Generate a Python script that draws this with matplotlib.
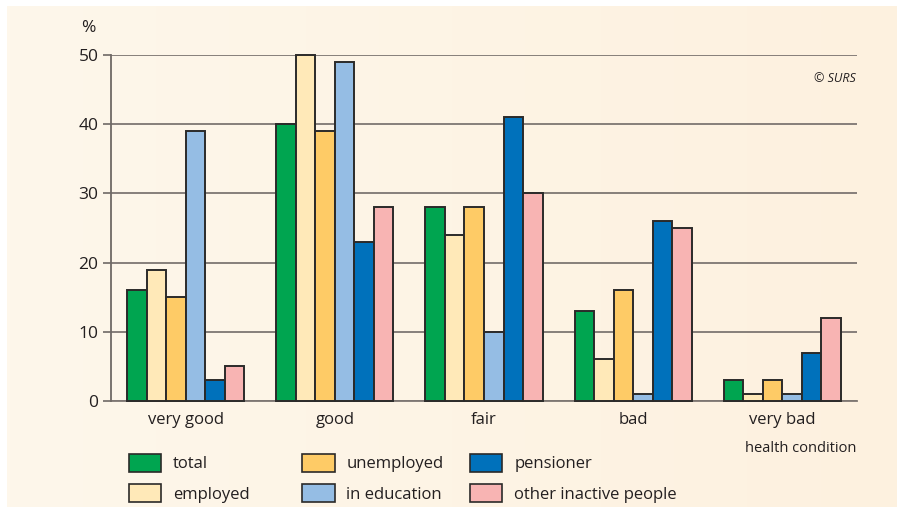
import numpy as np
import matplotlib.pyplot as plt
from matplotlib.patches import Patch

plt.rcParams['font.family'] = ['Open Sans', 'DejaVu Sans']

categories = ['very good', 'good', 'fair', 'bad', 'very bad']
groups = ['total', 'employed', 'unemployed', 'in education', 'pensioner',
          'other inactive people']
values = {
    'total':                 [16, 40, 28, 13, 3],
    'employed':              [19, 50, 24, 6, 1],
    'unemployed':            [15, 39, 28, 16, 3],
    'in education':          [39, 49, 10, 1, 1],
    'pensioner':             [3, 23, 41, 26, 7],
    'other inactive people': [5, 28, 30, 25, 12],
}
colors = ['#00a550', '#ffe9b8', '#fecb66', '#95bde4', '#0071bb', '#f8b4b3']

fig = plt.figure(figsize=(9.04, 5.13), dpi=100)
fig.patch.set_facecolor('white')

# beige panel, a little warmer towards the right
bg = fig.add_axes([7 / 904, 6 / 513, 890 / 904, 501 / 513], zorder=-10)
grad = np.linspace(0, 1, 256).reshape(1, -1)
c0 = np.array([254, 247, 235]) / 255
c1 = np.array([253, 241, 223]) / 255
img = c0 + (c1 - c0) * grad[..., None]
bg.imshow(img, aspect='auto', extent=[0, 1, 0, 1])
bg.set_axis_off()

ax = fig.add_axes([111 / 904, 112 / 513, 746 / 904, 346 / 513])
ax.set_facecolor('none')

x = np.arange(len(categories))
w = 0.131
for i, (g, c) in enumerate(zip(groups, colors)):
    ax.bar(x + (i - 2.5) * w, values[g], width=w, color=c,
           edgecolor='#2b2a29', linewidth=1.4, zorder=3, clip_on=False)

ax.set_xlim(-0.5, 4.5)
ax.set_ylim(0, 50)
ax.set_yticks([0, 10, 20, 30, 40, 50])
ax.set_xticks(x)
ax.set_xticklabels(categories, fontsize=12, color='#231f20')
ax.tick_params(axis='x', length=0, pad=8)
ax.tick_params(axis='y', length=6, width=1.2, color='#6f6965',
               labelsize=12.5, labelcolor='#231f20', pad=3)
ax.grid(axis='y', color='#7d7672', linewidth=1.3, zorder=1)
for s in ['top', 'right', 'bottom']:
    ax.spines[s].set_visible(False)
ax.spines['left'].set_color('#6f6965')
ax.spines['left'].set_linewidth(1.3)
ax.axhline(0, color='#7d7672', linewidth=1.3, zorder=2, clip_on=False)

fig.text(88 / 904, 1 - 28 / 513, '%', fontsize=12.5, color='#231f20',
         ha='center', va='center')
fig.text(856 / 904, 1 - 78 / 513, '© SURS', fontsize=9, style='italic',
         color='#231f20', ha='right', va='center')
fig.text(856 / 904, 1 - 448 / 513, 'health condition', fontsize=10.5,
         color='#231f20', ha='right', va='center')

# legend: three columns of two entries
handles = [Patch(facecolor=c, edgecolor='#2b2a29', linewidth=1.2) for c in colors]
col_x = [129, 302, 470]
for k in range(3):
    fig.legend(handles[2 * k:2 * k + 2], groups[2 * k:2 * k + 2],
               loc='upper left', bbox_to_anchor=(col_x[k] / 904, 1 - 454 / 513),
               frameon=False, fontsize=12, handlelength=1.95, handleheight=1.25,
               handletextpad=0.7, labelspacing=0.72, borderpad=0,
               borderaxespad=0, labelcolor='#231f20')

fig.savefig('out.png', dpi=100)
